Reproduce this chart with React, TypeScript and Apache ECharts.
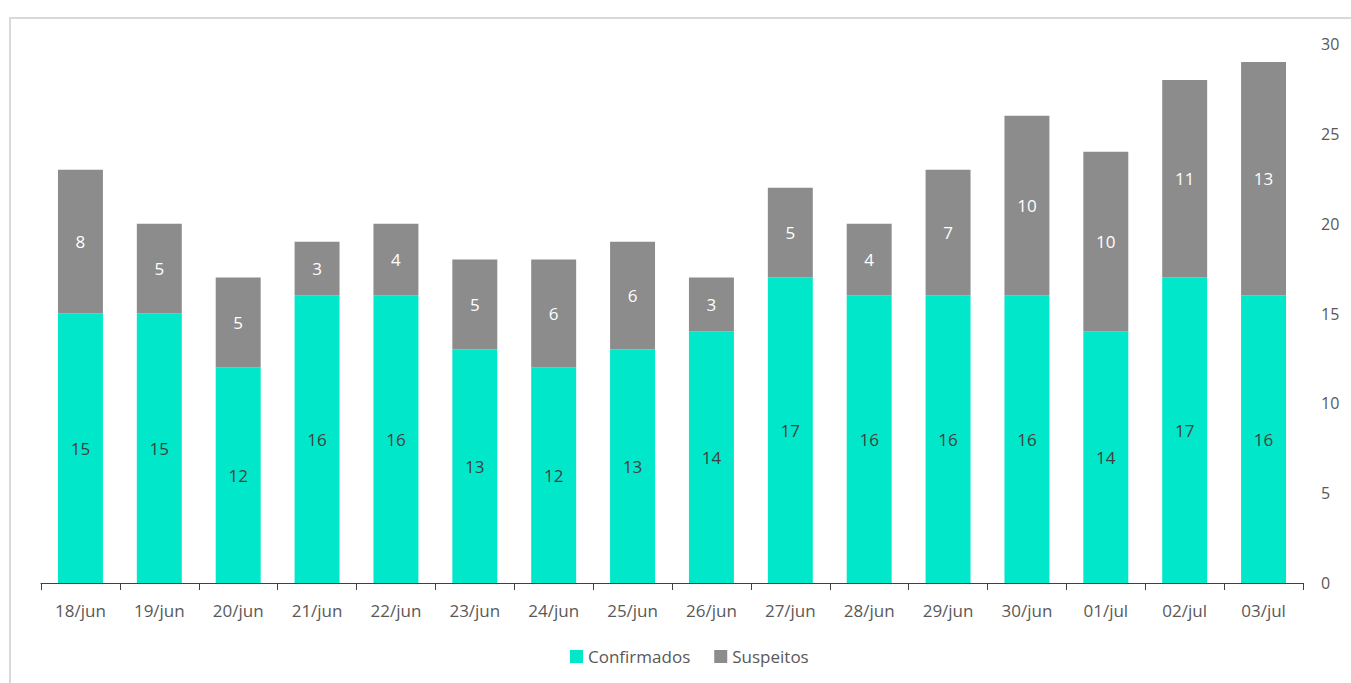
import React, { useEffect, useRef } from "react";
import * as echarts from "echarts";

const categories = ["18/jun", "19/jun", "20/jun", "21/jun", "22/jun", "23/jun", "24/jun", "25/jun", "26/jun", "27/jun", "28/jun", "29/jun", "30/jun", "01/jul", "02/jul", "03/jul"];
const confirmados = [15, 15, 12, 16, 16, 13, 12, 13, 14, 17, 16, 16, 16, 14, 17, 16];
const suspeitos = [8, 5, 5, 3, 4, 5, 6, 6, 3, 5, 4, 7, 10, 10, 11, 13];

const FONT = "Open Sans";

export default function App() {
  const ref = useRef<HTMLDivElement>(null);
  useEffect(() => {
    if (!ref.current) return;
    const chart = echarts.init(ref.current, null, { renderer: "svg" });
    chart.setOption({
      animation: false,
      backgroundColor: "#ffffff",
      textStyle: { fontFamily: FONT },
      graphic: [
        {
          type: "rect",
          shape: { x: 10, y: 18, width: 1400, height: 700 },
          style: { fill: "none", stroke: "#d9d9d9", lineWidth: 2 },
          silent: true,
          z: -1,
        },
      ],
      grid: { left: 41, right: 48, top: 44, bottom: 100 },
      legend: {
        bottom: 13,
        left: 565,
        itemWidth: 13,
        itemHeight: 13,
        itemGap: 24,
        icon: "rect",
        textStyle: { color: "#595959", fontSize: 17, fontFamily: FONT },
        data: ["Confirmados", "Suspeitos"],
      },
      xAxis: {
        type: "category",
        data: categories,
        axisLine: { show: true, lineStyle: { color: "#404040", width: 1 } },
        axisTick: { show: true, length: 7, lineStyle: { color: "#404040" } },
        axisLabel: { color: "#595959", fontSize: 17, margin: 19, fontFamily: FONT },
      },
      yAxis: {
        type: "value",
        position: "right",
        min: 0,
        max: 30,
        interval: 5,
        splitLine: { show: false },
        axisLine: { show: false },
        axisTick: { show: false },
        axisLabel: { color: "#595959", fontSize: 16, margin: 18, fontFamily: FONT },
      },
      series: [
        {
          name: "Confirmados",
          type: "bar",
          stack: "total",
          data: confirmados,
          barWidth: "57%",
          itemStyle: { color: "#00E8C9" },
          label: { show: true, position: "inside", color: "#404040", fontSize: 17, fontFamily: FONT },
        },
        {
          name: "Suspeitos",
          type: "bar",
          stack: "total",
          data: suspeitos,
          barWidth: "57%",
          itemStyle: { color: "#8C8C8C" },
          label: { show: true, position: "inside", color: "#ffffff", fontSize: 17, fontFamily: FONT },
        },
      ],
    });
    return () => chart.dispose();
  }, []);
  return (
    <div
      ref={ref}
      style={{ position: "fixed", left: 0, top: 0, width: 1351, height: 683 }}
    />
  );
}
